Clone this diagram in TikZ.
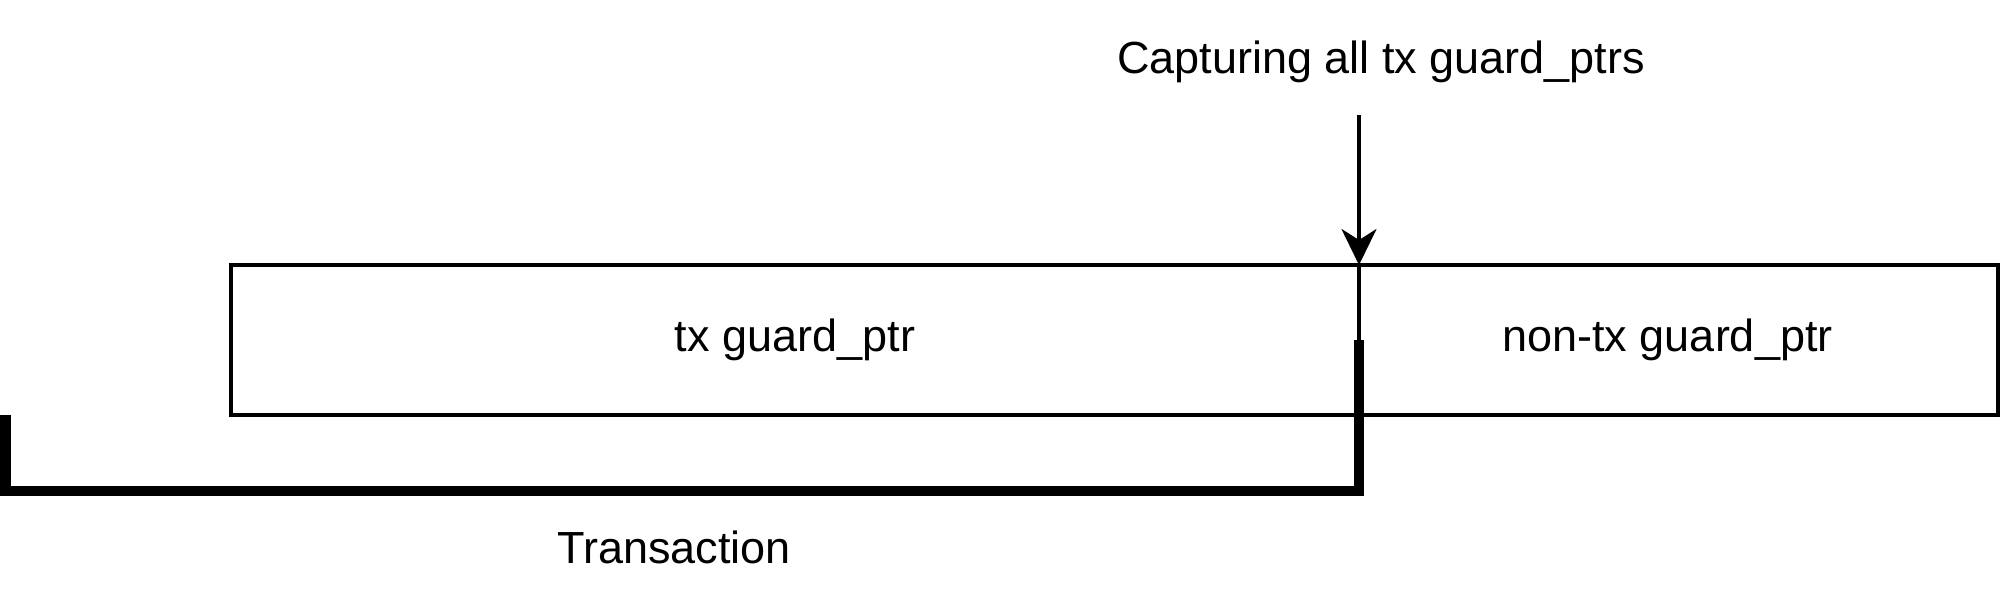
\documentclass[tikz,border=0pt]{standalone}
\usepackage{fontspec}
\setmainfont{Liberation Sans}
\usetikzlibrary{arrows.meta}
\begin{document}
\begin{tikzpicture}[x=1pt,y=-1pt,
  every node/.style={font=\fontsize{45}{54}\selectfont, inner sep=0pt, outer sep=0pt},
  box/.style={draw, line width=3.5pt, rectangle, align=center},
  arrowline/.style={line width=3.5pt, -{Stealth[length=36pt,width=35pt,inset=11pt]}},
  bracket/.style={line width=10.5pt, line join=miter, line cap=butt}]
\useasboundingbox (0,0) rectangle (2001,598);
\node[box, minimum width=1128pt, minimum height=150pt, anchor=north west] (tx) at (231,265) {tx guard\_ptr};
\node[box, minimum width=639pt, minimum height=150pt, anchor=north west] (ntx) at (1359,265) {\hspace*{-22pt}non-tx guard\_ptr};
\coordinate (astart) at (1359,115);
\draw[arrowline] (astart) -- (tx.north east);
\node[anchor=base] (cap) at (1381,73) {Capturing all tx guard\_ptrs};
\coordinate (bl) at (5.5,415);
\coordinate (bc) at (5.5,491);
\coordinate (br) at (1359,340);
\draw[bracket] (bl) -- (bc) -| (br);
\node[anchor=base] (trans) at (674,563) {Transaction};
\end{tikzpicture}
\end{document}
